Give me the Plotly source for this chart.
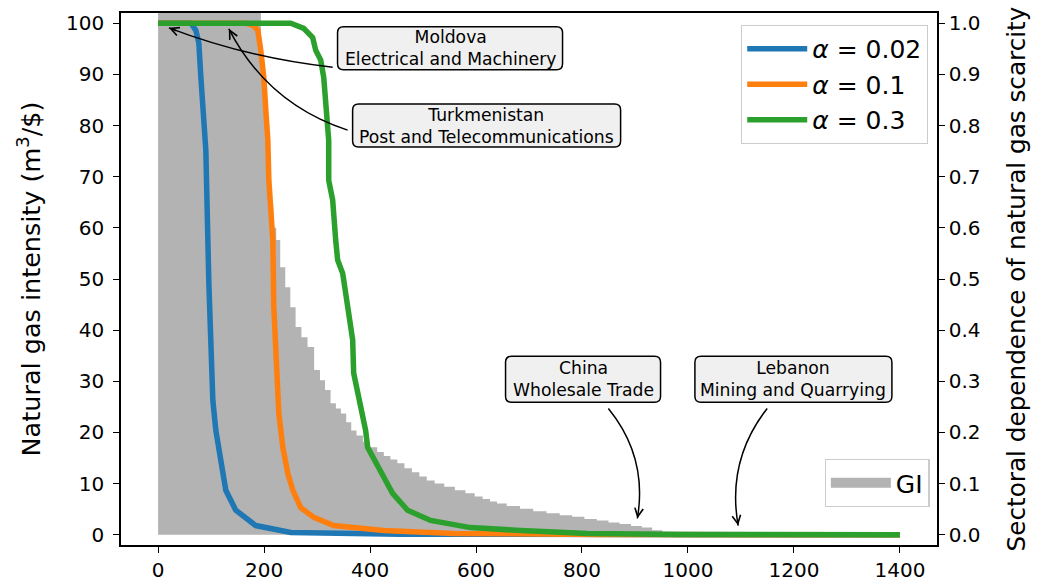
import plotly.graph_objects as go

# ---------------- data ----------------
# GI (natural gas intensity), read along the top edge of the grey bars
GI_x = [0, 193, 195, 200, 205, 210, 215, 220, 226, 235, 245, 254, 265, 276, 288, 301, 310, 320,
        331, 340, 350, 360, 369, 380, 393, 407, 420, 432, 445, 458, 472, 486, 500, 514, 530,
        550, 570, 590, 605, 620, 633, 646, 670, 696, 720, 746, 770, 793, 816, 840, 860, 882,
        903, 923, 942, 961, 970]
GI_y = [600, 600, 95, 88, 78, 70, 64, 60, 57.6, 52.3, 48.4, 44.5, 40.6, 38.6, 36.7, 32.2, 30.2,
        28.3, 25.7, 24.7, 23.7, 22.0, 20.4, 19.4, 18.2, 17.1, 16.2, 15.4, 14.7, 14.0, 13.0,
        12.2, 11.4, 10.6, 10.0, 9.4, 8.7, 8.1, 7.5, 7.0, 6.5, 6.1, 5.6, 5.1, 4.6, 4.2, 3.8,
        3.5, 3.1, 2.8, 2.4, 2.1, 1.7, 1.4, 0.9, 0.45, 0.0]

# sectoral dependence curves
a002_x = [0, 61.8, 71.3, 76.9, 80.7, 84.4, 86.3, 90.1, 95.8, 103.3, 109, 118.4, 127.8,
          146.6, 184.3, 250.3, 457.7, 1400]
a002_y = [1.0, 1.0, 0.986, 0.961, 0.895, 0.830, 0.777, 0.752, 0.492, 0.263, 0.204, 0.145,
          0.087, 0.048, 0.018, 0.0045, 0.001, 0.0]

a01_x = [0, 165.5, 178.7, 188.1, 193.8, 199.5, 203.3, 207.1, 209, 216.5, 218.4, 226, 227.9,
         235.4, 244.8, 254.3, 269.3, 293.8, 331.5, 425.8, 557.6, 834.7, 1400]
a01_y = [1.0, 1.0, 0.996, 0.987, 0.947, 0.894, 0.830, 0.772, 0.694, 0.576, 0.445, 0.269,
         0.237, 0.171, 0.120, 0.087, 0.053, 0.034, 0.018, 0.0084, 0.0025, 0.0006, 0.0]

a03_x = [0, 250.3, 274.8, 291.8, 297.5, 306.9, 312.6, 316.3, 320.1, 322, 322, 329.5, 335.2,
         338.9, 348.4, 357.8, 367.2, 369.1, 378.5, 382.3, 391.7, 395.5, 414.3, 429.4, 442.6,
         470.9, 514.2, 589.6, 683.9, 810.2, 985.5, 1400]
a03_y = [1.0, 1.0, 0.990, 0.972, 0.947, 0.928, 0.894, 0.855, 0.810, 0.771, 0.693, 0.654,
         0.576, 0.537, 0.511, 0.445, 0.381, 0.316, 0.269, 0.249, 0.204, 0.171, 0.132, 0.106,
         0.081, 0.048, 0.028, 0.014, 0.0084, 0.0025, 0.0006, 0.0]

series_names = ["<i>α</i> = 0.02", "<i>α</i> = 0.1", "<i>α</i> = 0.3"]
series_colors = ["#1f77b4", "#ff7f0e", "#2ca02c"]
GI_color = "#b3b3b3"

x_ticks = [0, 200, 400, 600, 800, 1000, 1200, 1400]
y_ticks = [0, 10, 20, 30, 40, 50, 60, 70, 80, 90, 100]
y2_ticks = [0.0, 0.1, 0.2, 0.3, 0.4, 0.5, 0.6, 0.7, 0.8, 0.9, 1.0]

# annotations: text, box centre (x, y2), box size px, arrow start, control, target
ann_texts = ["Moldova<br>Electrical and Machinery",
             "Turkmenistan<br>Post and Telecommunications",
             "China<br>Wholesale Trade",
             "Lebanon<br>Mining and Quarrying"]
ann_centers = [(551, 0.951), (620, 0.800), (802, 0.304), (1199, 0.304)]
ann_box_px = [(225, 43), (268, 43), (155, 46), (197, 46)]
ann_start = [(329.5, 0.914), (357.7, 0.791), (849.8, 0.247), (1149.5, 0.247)]
ann_ctrl = [(170.2, 0.932), (206.6, 0.842), (924.4, 0.152), (1072.8, 0.145)]
ann_target = [(20.4, 0.991), (133.5, 0.989), (904.5, 0.032), (1094.8, 0.018)]
ann_head_tail = [(11, 4.3), (5.5, 10.6), (2, -12), (-2.1, -11.8)]

FONT = "DejaVu Sans"

# ---------------- figure ----------------
fig = go.Figure()

# GI drawn as a seamless step area
fig.add_trace(go.Scatter(
    x=GI_x, y=GI_y, mode="lines", line=dict(shape="hvh", width=0, color=GI_color),
    fill="tozeroy", fillcolor=GI_color, yaxis="y", showlegend=False, name="GI",
))
# legend entry for GI
fig.add_trace(go.Scatter(
    x=[None], y=[None], mode="lines", name="GI", yaxis="y", legend="legend2",
    line=dict(color=GI_color, width=15),
))

for xs, ys, nm, col in zip([a002_x, a01_x, a03_x], [a002_y, a01_y, a03_y],
                           series_names, series_colors):
    fig.add_trace(go.Scatter(
        x=xs, y=ys, mode="lines", name=nm, yaxis="y2", legend="legend",
        line=dict(color=col, width=5.5),
    ))

shapes = []
annotations = []


def rounded_path(w, h, r=6):
    a, b = w / 2, h / 2
    return (f"M {-a + r},{-b} L {a - r},{-b} Q {a},{-b} {a},{-b + r} "
            f"L {a},{b - r} Q {a},{b} {a - r},{b} L {-a + r},{b} "
            f"Q {-a},{b} {-a},{b - r} L {-a},{-b + r} Q {-a},{-b} {-a + r},{-b} Z")


for txt, (cx, cy), (bw, bh), p0, pc, p2, (ax, ay) in zip(
        ann_texts, ann_centers, ann_box_px, ann_start, ann_ctrl, ann_target, ann_head_tail):
    shapes.append(dict(type="path", xref="x", yref="y2", layer="above",
                       path=f"M {p0[0]},{p0[1]} Q {pc[0]},{pc[1]} {p2[0]},{p2[1]}",
                       line=dict(color="black", width=1.5)))
    shapes.append(dict(type="path", xref="x", yref="y2", layer="above",
                       xsizemode="pixel", ysizemode="pixel", xanchor=cx, yanchor=cy,
                       path=rounded_path(bw, bh), fillcolor="#f0f0f0",
                       line=dict(color="black", width=1.5)))
    annotations.append(dict(x=cx, y=cy, xref="x", yref="y2", text=txt, showarrow=False,
                            font=dict(family=FONT, size=17.2, color="black"), align="center"))
    annotations.append(dict(x=p2[0], y=p2[1], xref="x", yref="y2", text=" ", showarrow=True,
                            ax=ax, ay=ay, arrowhead=5, arrowsize=1.1, arrowwidth=1.5,
                            arrowcolor="black", standoff=0))

axis_common = dict(showgrid=False, zeroline=False, showline=True, linecolor="black",
                   linewidth=1.5, ticks="outside", ticklen=6, tickwidth=1.3, automargin=False,
                   tickcolor="black", tickfont=dict(family=FONT, size=20, color="black"))

legend_style = dict(bgcolor="rgba(255,255,255,0.85)", bordercolor="#cccccc", borderwidth=1.2,
                    font=dict(family=FONT, size=25, color="black"), itemwidth=60)

fig.update_layout(
    width=1043, height=584,
    margin=dict(l=120.5, r=106, t=13, b=39),
    paper_bgcolor="white", plot_bgcolor="white",
    font=dict(family=FONT, color="black"),
    xaxis=dict(range=[-70, 1470], tickvals=x_ticks, mirror=True, **axis_common),
    yaxis=dict(range=[-2, 102], tickvals=y_ticks, ticklabelstandoff=5,
               title=dict(text="Natural gas intensity (m<sup>3</sup>/$)",
                          font=dict(family=FONT, size=25.5, color="black"), standoff=18),
               **axis_common),
    yaxis2=dict(range=[-0.02, 1.02], tickvals=y2_ticks, tickformat=".1f",
                overlaying="y", side="right",
                title=dict(text="Sectoral dependence of natural gas scarcity",
                           font=dict(family=FONT, size=24.7, color="black"), standoff=28),
                **axis_common),
    legend=dict(x=0.989, y=0.978, xanchor="right", yanchor="top", **legend_style),
    legend2=dict(x=0.991, y=0.162, xanchor="right", yanchor="top", **legend_style),
    shapes=shapes,
    annotations=annotations,
    showlegend=True,
)

fig.write_html("out.html")
